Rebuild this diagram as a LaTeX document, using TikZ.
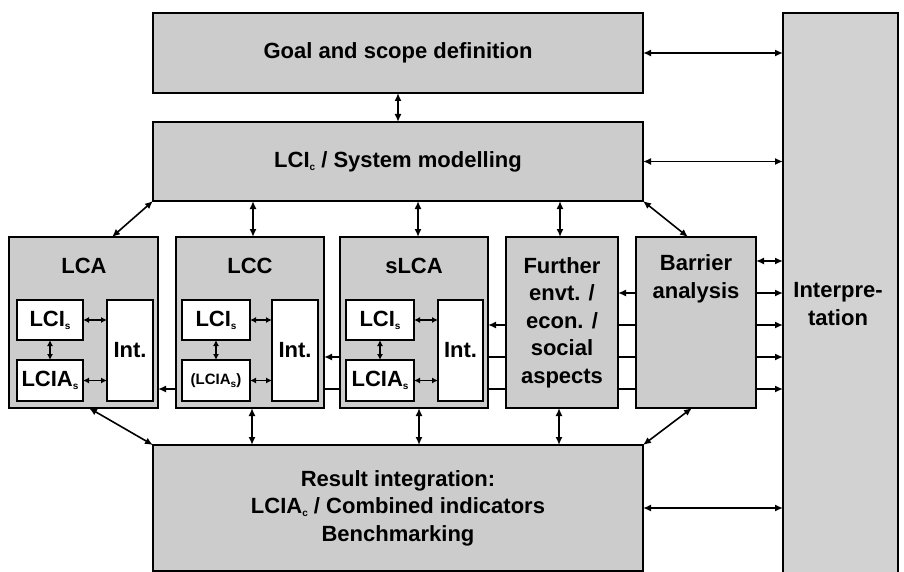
\documentclass[tikz,border=0pt]{standalone}
\usepackage{fontspec}
\setmainfont{Liberation Sans}
\usetikzlibrary{arrows.meta}
\pgfdeclarelayer{bg}
\pgfsetlayers{bg,main}
\definecolor{boxgray}{RGB}{204,204,204}
\definecolor{intgray}{RGB}{210,210,210}
\newcommand{\sbs}[1]{\raisebox{-3pt}{\fontsize{10}{10}\selectfont #1}}
\newcommand{\bigtxt}{\bfseries\fontsize{22}{27.5}\selectfont}
\newcommand{\smalltxt}{\bfseries\fontsize{15}{18}\selectfont}
\begin{document}
\begin{tikzpicture}[x=1pt,y=-1pt,
  box/.style={draw=black, line width=1.9pt, fill=boxgray, inner sep=0pt, outer sep=0pt, anchor=north west, font=\bigtxt, align=center},
  wbox/.style={draw=black, line width=1.7pt, fill=white, inner sep=0pt, outer sep=0pt, anchor=north west, font=\bigtxt, align=center},
  lbl/.style={font=\bigtxt, align=center, inner sep=0pt},
  arr/.style={line width=1.6pt, {Latex[length=8pt,width=7pt]}-{Latex[length=8pt,width=7pt]}},
  sarr/.style={line width=1.4pt, {Latex[length=6pt,width=6pt]}-{Latex[length=6pt,width=6pt]}},
]
\useasboundingbox (0,0) rectangle (904,572);
% big boxes
\node[box, minimum width=490, minimum height=80] (goal) at (153,13) {Goal and scope definition};
\node[box, minimum width=490, minimum height=79] (lcic) at (153,122) {LCI\sbs{c} / System modelling};
\node[box, minimum width=490, minimum height=126] (res) at (153,445) {Result integration:\\ LCIA\sbs{c} / Combined indicators\\ Benchmarking};
\node[box, fill=intgray, minimum width=115, minimum height=562] (interp) at (783,13) {};
\node[lbl] (interptxt) at (838,304) {Interpre-\\tation};
% middle row
\node[box, minimum width=149, minimum height=171] (lca) at (9,237) {};
\node[lbl] (lcat) at (84,266) {LCA};
\node[wbox, minimum width=66, minimum height=40] (lci1) at (17,300) {LCI\sbs{s}};
\node[wbox, minimum width=66, minimum height=41] (lcia1) at (17,360) {LCIA\sbs{s}};
\node[wbox, minimum width=46, minimum height=101] (int1) at (107,300) {Int.};

\node[box, minimum width=148, minimum height=171] (lcc) at (176,237) {};
\node[lbl] (lcct) at (250,266) {LCC};
\node[wbox, minimum width=68, minimum height=40] (lci2) at (182,300) {LCI\sbs{s}};
\node[wbox, minimum width=68, minimum height=41, font=\smalltxt] (lcia2) at (182,360) {(LCIA\sbs{s})};
\node[wbox, minimum width=46, minimum height=101] (int2) at (272,300) {Int.};

\node[box, minimum width=148, minimum height=171] (slca) at (340,237) {};
\node[lbl] (slcat) at (414,266) {sLCA};
\node[wbox, minimum width=68, minimum height=40] (lci3) at (346,300) {LCI\sbs{s}};
\node[wbox, minimum width=68, minimum height=41] (lcia3) at (346,360) {LCIA\sbs{s}};
\node[wbox, minimum width=45, minimum height=101] (int3) at (438,300) {Int.};

\node[box, minimum width=112, minimum height=171] (further) at (506,237) {Further\\envt. /\\econ. /\\social\\aspects};

\node[box, minimum width=120, minimum height=171] (barrier) at (636,237) {};
\node[lbl] (barriert) at (696,279) {Barrier\\analysis};

% helper coordinates
\coordinate (yA) at (0,261);
\coordinate (yB) at (0,293);
\coordinate (yC) at (0,325);
\coordinate (yD) at (0,357);
\coordinate (yE) at (0,389);

\begin{pgfonlayer}{bg}
\draw[arr] (lca.east |- yE) -- (interp.west |- yE);
\draw[arr] (lcc.east |- yD) -- (interp.west |- yD);
\draw[arr] (slca.east |- yC) -- (interp.west |- yC);
\draw[arr] (further.east |- yB) -- (interp.west |- yB);
\end{pgfonlayer}
\draw[arr] (barrier.east |- yA) -- (interp.west |- yA);

% top connectors
\draw[arr] (goal.south) -- (lcic.north);
\draw[arr] (goal.east) -- (goal.east -| interp.west);
\draw[arr] (lcic.east) -- (lcic.east -| interp.west);
\draw[arr] (res.east) -- (res.east -| interp.west);

\draw[arr] ([xshift=103pt]lca.north west) -- (lcic.south west);
\draw[arr] ([xshift=3pt]lcc.north) -- ([xshift=3pt]lcc.north |- lcic.south);
\draw[arr] ([xshift=4pt]slca.north) -- ([xshift=4pt]slca.north |- lcic.south);
\draw[arr] ([xshift=-2pt]further.north) -- ([xshift=-2pt]further.north |- lcic.south);
\draw[arr] ([xshift=52pt]barrier.north west) -- (lcic.south east);

% bottom connectors
\draw[arr] ([xshift=80pt]lca.south west) -- (res.north west);
\draw[arr] ([xshift=2pt]lcc.south) -- ([xshift=2pt]lcc.south |- res.north);
\draw[arr] ([xshift=5pt]slca.south) -- ([xshift=5pt]slca.south |- res.north);
\draw[arr] ([xshift=-3pt]further.south) -- ([xshift=-3pt]further.south |- res.north);
\draw[arr] ([xshift=56pt]barrier.south west) -- (res.north east);

% internal connectors
\foreach \i in {1,2,3}{
  \draw[sarr] (lci\i.east) -- (lci\i.east -| int\i.west);
  \draw[sarr] (lcia\i.east) -- (lcia\i.east -| int\i.west);
  \draw[sarr] (lci\i.south) -- (lcia\i.north);
}
\end{tikzpicture}
\end{document}
